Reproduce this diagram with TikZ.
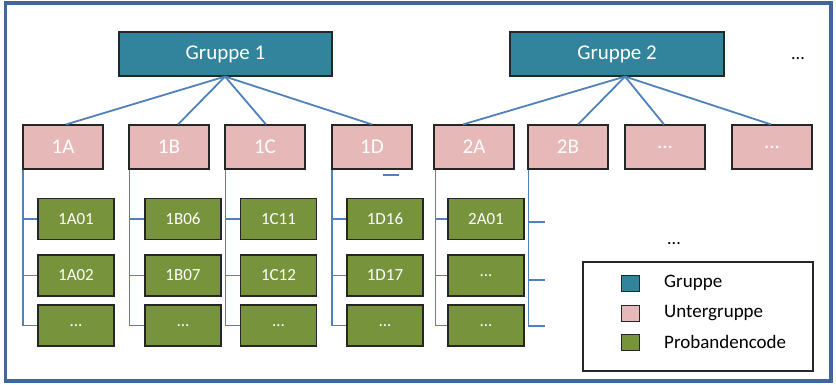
\documentclass[tikz,border=0pt]{standalone}
\usepackage{fontspec}
\setmainfont{Carlito}
\usetikzlibrary{calc}
\definecolor{teal1}{HTML}{31849B}
\definecolor{pink1}{HTML}{E6B9B8}
\definecolor{green1}{HTML}{77933C}
\definecolor{line1}{HTML}{4F81BD}
\definecolor{frame1}{HTML}{41679A}
\tikzset{
  box/.style={draw=black!85, line width=1.1pt, inner sep=0pt, text=white},
  grp/.style={box, fill=teal1, minimum width=213pt, minimum height=44pt, font=\fontsize{21}{24}\selectfont},
  sub/.style={box, fill=pink1, minimum width=80pt, minimum height=44pt, font=\fontsize{21}{24}\selectfont},
  prb/.style={box, fill=green1, minimum width=76pt, minimum height=41pt, font=\fontsize{17}{20}\selectfont},
  ln/.style={draw=line1, line width=1.8pt},
  legsq/.style={draw=black!85, line width=1pt, minimum width=18pt, minimum height=16pt, inner sep=0pt},
  legtx/.style={anchor=west, inner sep=0pt, font=\fontsize{19}{22}\selectfont},
  dots/.style={inner sep=0pt, font=\fontsize{18}{20}\selectfont}
}
\begin{document}
\begin{tikzpicture}[x=1pt,y=-1pt]
\useasboundingbox (0,0) rectangle (836,385);
\fill[white] (0,0) rectangle (836,385);
\draw[frame1, line width=3.5pt] (5.5,3) rectangle (831,381);

% groups
\node[grp] (g1) at (225.5,54) {Gruppe 1};
\node[grp, minimum width=214pt] (g2) at (617,54) {Gruppe 2};
\node[dots] (gdots) at (798,59) {...};

% subgroups
\node[sub] (s1a) at (63,147) {1A};
\node[sub] (s1b) at (169,147) {1B};
\node[sub] (s1c) at (265,147) {1C};
\node[sub] (s1d) at (372,147) {1D};
\node[sub] (s2a) at (474,147) {2A};
\node[sub] (s2b) at (568,147) {2B};
\node[sub] (s2c) at (665,147) {...};
\node[sub] (s2d) at (772,147) {...};

% connectors group -> subgroup
\coordinate (g1b) at ($(g1.south)+(-0.5,0)$);
\coordinate (g2b) at ($(g2.south)+(8,0)$);
\draw[ln] (g1b) -- ($(s1a.north)+(3,0)$);
\draw[ln] (g1b) -- ($(s1b.north)+(9,0)$);
\draw[ln] (g1b) -- ($(s1c.north)+(1,0)$);
\draw[ln] (g1b) -- (s1d.north);
\draw[ln] (g2b) -- ($(s2a.north)+(-11,0)$);
\draw[ln] (g2b) -- ($(s2b.north)+(10,0)$);
\draw[ln] (g2b) -- ($(s2c.north)+(-1,0)$);
\draw[ln] (g2b) -- ($(s2d.north)+(-1,0)$);

% stray mark under 1D
\coordinate (m1) at (383,175);
\coordinate (m2) at (399,175);
\draw[ln, line width=2.2pt] (m1) -- (m2);

% probandencodes
\node[prb] (p1a1) at (76,219) {1A01};
\node[prb] (p1a2) at (76,275.5) {1A02};
\node[prb] (p1a3) at (76,325.5) {...};
\node[prb] (p1b1) at (183,219) {1B06};
\node[prb] (p1b2) at (183,275.5) {1B07};
\node[prb] (p1b3) at (183,325.5) {...};
\node[prb] (p1c1) at (278.5,219) {1C11};
\node[prb] (p1c2) at (278.5,275.5) {1C12};
\node[prb] (p1c3) at (278.5,325.5) {...};
\node[prb] (p1d1) at (385,219) {1D16};
\node[prb] (p1d2) at (385,275.5) {1D17};
\node[prb] (p1d3) at (385,325.5) {...};
\node[prb] (p2a1) at (486,219) {2A01};
\node[prb] (p2a2) at (486,275.5) {...};
\node[prb] (p2a3) at (486,325.5) {...};

% tree lines
\foreach \s/\p/\dx in {s1a/p1a/0.5, s1b/p1b/1, s1c/p1c/1, s1d/p1d/0.5, s2a/p2a/2}{
  \coordinate (v\s) at ($(\s.south west)+(\dx,0)$);
  \draw[ln] (v\s) |- (\p3.west);
  \draw[ln] (\p1.west -| v\s) -- (\p1.west);
  \draw[ln] (\p2.west -| v\s) -- (\p2.west);
}
\coordinate (e1) at (545,222);
\coordinate (e2) at (545,280);
\coordinate (e3) at (545,326);
\coordinate (vs2b) at ($(s2b.south west)+(1,0)$);
\draw[ln] (vs2b) |- (e3);
\draw[ln] (e1 -| vs2b) -- (e1);
\draw[ln] (e2 -| vs2b) -- (e2);

\node[dots] (mdots) at (674,244) {...};

% legend
\node[draw=black!85, line width=1.5pt, minimum width=230pt, minimum height=109pt, inner sep=0pt] (leg) at (698,316.5) {};
\node[legsq, fill=teal1] (lq1) at (630,283) {};
\node[legsq, fill=pink1] (lq2) at (630,313) {};
\node[legsq, fill=green1] (lq3) at (630,342) {};
\node[legtx] (lt1) at (664,283) {Gruppe};
\node[legtx] (lt2) at (664,313) {Untergruppe};
\node[legtx] (lt3) at (664,342) {Probandencode};
\end{tikzpicture}
\end{document}
